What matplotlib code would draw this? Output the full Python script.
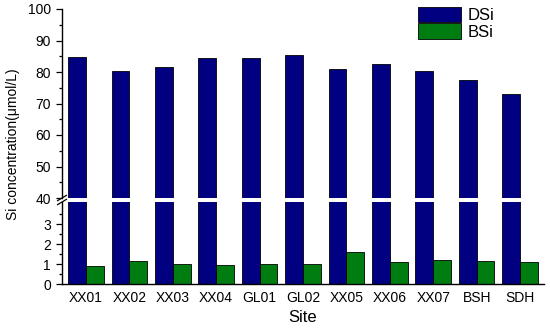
import matplotlib.pyplot as plt
from matplotlib.patches import Patch
import numpy as np

sites = ['XX01', 'XX02', 'XX03', 'XX04', 'GL01', 'GL02', 'XX05', 'XX06', 'XX07', 'BSH', 'SDH']
dsi = [84.8, 80.4, 81.6, 84.5, 84.3, 85.5, 81.0, 82.5, 80.3, 77.6, 73.1]
bsi = [0.88, 1.15, 1.01, 0.97, 1.02, 1.02, 1.60, 1.08, 1.18, 1.13, 1.08]

navy = '#000080'
green = '#007d10'

plt.rcParams['font.family'] = ['Liberation Sans', 'DejaVu Sans']
plt.rcParams['font.size'] = 10

fig = plt.figure(figsize=(5.5, 3.28), dpi=100)
left, right = 62 / 550, 544 / 550
ax_top = fig.add_axes([left, 1 - 198 / 328, right - left, 189 / 328])
ax_bot = fig.add_axes([left, 1 - 284 / 328, right - left, 82 / 328])

x = np.arange(len(sites))
w = 0.41
for ax in (ax_top, ax_bot):
    ax.bar(x - w / 2, dsi, w, color=navy, edgecolor='black', linewidth=0.6)
    ax.bar(x + w / 2, bsi, w, color=green, edgecolor='black', linewidth=0.6)
    ax.set_xlim(-0.55, len(sites) - 0.45)
    ax.spines['top'].set_visible(False)
    ax.spines['right'].set_visible(False)
    ax.spines['left'].set_linewidth(1.0)
    ax.spines['bottom'].set_linewidth(1.0)
    ax.tick_params(axis='y', which='major', length=4.5, width=0.9, pad=3.5, labelsize=10)
    ax.tick_params(axis='y', which='minor', length=2.5, width=0.9)

ax_top.set_ylim(40, 100)
ax_top.set_yticks([40, 50, 60, 70, 80, 90, 100])
ax_top.set_yticks(np.arange(45, 100, 10), minor=True)
ax_top.spines['bottom'].set_visible(False)
ax_top.set_xticks([])

ax_bot.set_ylim(0, 4.1)
ax_bot.set_yticks([0, 1, 2, 3])
ax_bot.set_yticks([0.5, 1.5, 2.5, 3.5], minor=True)
ax_bot.set_xticks(x)
ax_bot.set_xticklabels(sites)
ax_bot.tick_params(axis='x', length=0, pad=5, labelsize=10)
ax_bot.set_xlabel('Site', fontsize=12, labelpad=4)

# break marks on the left spine
for yy in (198, 202):
    fy = 1 - yy / 328
    fig.add_artist(plt.Line2D([left - 0.008, left + 0.008], [fy - 0.008, fy + 0.008],
                              color='black', linewidth=0.9, transform=fig.transFigure))

fig.text(0.024, 0.56, 'Si concentration(μmol/L)', rotation=90, ha='center', va='center',
         fontsize=10)

handles = [Patch(facecolor=navy, edgecolor='black', linewidth=0.6, label='DSi'),
           Patch(facecolor=green, edgecolor='black', linewidth=0.6, label='BSi')]
fig.legend(handles=handles, loc='upper left', bbox_to_anchor=(418 / 550, 1 - 7 / 328),
           frameon=False, handlelength=2.6, handleheight=1.05, labelspacing=0,
           handletextpad=0.4, borderpad=0, borderaxespad=0, fontsize=12)

fig.savefig('out.png', dpi=100)
